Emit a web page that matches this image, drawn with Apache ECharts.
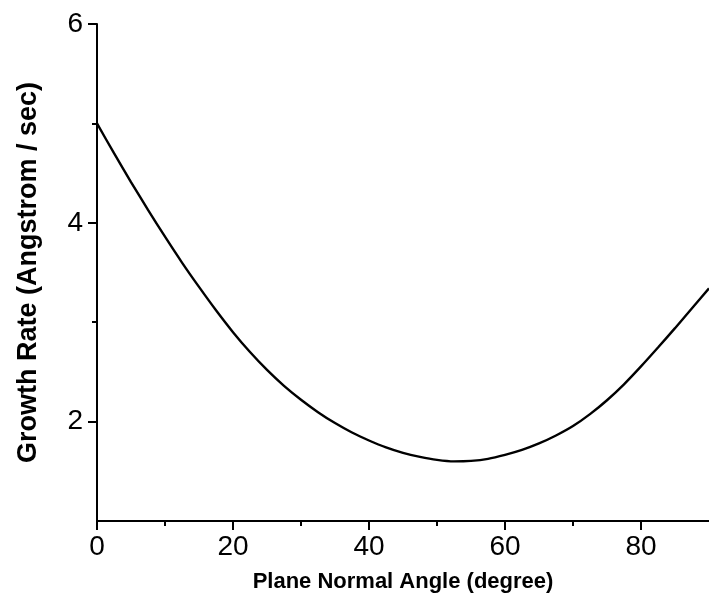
<!DOCTYPE html>
<html>
<head>
<meta charset="utf-8">
<script src="https://cdn.jsdelivr.net/npm/echarts@6/dist/echarts.min.js"></script>
<style>
html,body{margin:0;padding:0;background:#fff;}
#chart{width:709px;height:612px;}
</style>
</head>
<body>
<div id="chart"></div>
<script>
const angles = [0, 2.5, 5, 7.5, 10, 12.5, 15, 17.5, 20, 22.5, 25, 27.5, 30, 32.5, 35, 37.5, 40, 42.5, 45,
                47.5, 50, 52.5, 55, 57.5, 60, 62.5, 65, 67.5, 70, 72.5, 75, 77.5, 80, 82.5, 85, 87.5, 90];
const growthRate = [5.00, 4.70, 4.41, 4.13, 3.86, 3.60, 3.355, 3.12, 2.90, 2.70, 2.52, 2.36, 2.22, 2.095, 1.985, 1.89, 1.81, 1.74, 1.685,
                    1.645, 1.615, 1.60, 1.605, 1.625, 1.665, 1.715, 1.78, 1.86, 1.955, 2.075, 2.215, 2.375, 2.555, 2.745, 2.94, 3.14, 3.34];
const xMajorTicks = [0, 20, 40, 60, 80];
const xMinorTicks = [10, 30, 50, 70];
const yMajorTicks = [2, 4, 6];
const yMinorTicks = [3, 5];
const xTitle = 'Plane Normal Angle (degree)';
const yTitle = 'Growth Rate (Angstrom / sec)';

const FONT = "'Liberation Sans', Arial, sans-serif";
const chart = echarts.init(document.getElementById('chart'));
const lineStyle = {color: '#000', width: 2};

chart.setOption({
  animation: false,
  backgroundColor: '#fff',
  grid: {left: 97, right: 0, top: 24, bottom: 91, containLabel: false},
  xAxis: [{
    type: 'value', min: 0, max: 90,
    axisLine: {show: true, lineStyle: lineStyle},
    axisTick: {show: true, length: 9, lineStyle: lineStyle, customValues: xMajorTicks},
    axisLabel: {color: '#000', fontSize: 28, fontFamily: FONT, margin: 12, customValues: xMajorTicks},
    splitLine: {show: false},
    name: xTitle, nameLocation: 'middle', nameGap: 50,
    nameTextStyle: {color: '#000', fontSize: 22, fontWeight: 'bold', fontFamily: FONT}
  }, {
    type: 'value', min: 0, max: 90, position: 'bottom',
    axisLine: {show: false},
    axisTick: {show: true, length: 5, lineStyle: lineStyle, customValues: xMinorTicks},
    axisLabel: {show: false},
    splitLine: {show: false}
  }],
  yAxis: [{
    type: 'value', min: 1, max: 6,
    axisLine: {show: true, lineStyle: lineStyle},
    axisTick: {show: true, length: 9, lineStyle: lineStyle, customValues: yMajorTicks},
    axisLabel: {color: '#000', fontSize: 28, fontFamily: FONT, margin: 14, customValues: yMajorTicks},
    splitLine: {show: false},
    name: yTitle, nameLocation: 'middle', nameGap: 55,
    nameTextStyle: {color: '#000', fontSize: 27, fontWeight: 'bold', fontFamily: FONT}
  }, {
    type: 'value', min: 1, max: 6, position: 'left',
    axisLine: {show: false},
    axisTick: {show: true, length: 5, lineStyle: lineStyle, customValues: yMinorTicks},
    axisLabel: {show: false},
    splitLine: {show: false}
  }],
  series: [{
    type: 'line',
    data: angles.map((a, i) => [a, growthRate[i]]),
    smooth: 0.2,
    showSymbol: false,
    clip: false,
    lineStyle: {color: '#000', width: 2.4}
  }]
});
</script>
</body>
</html>
